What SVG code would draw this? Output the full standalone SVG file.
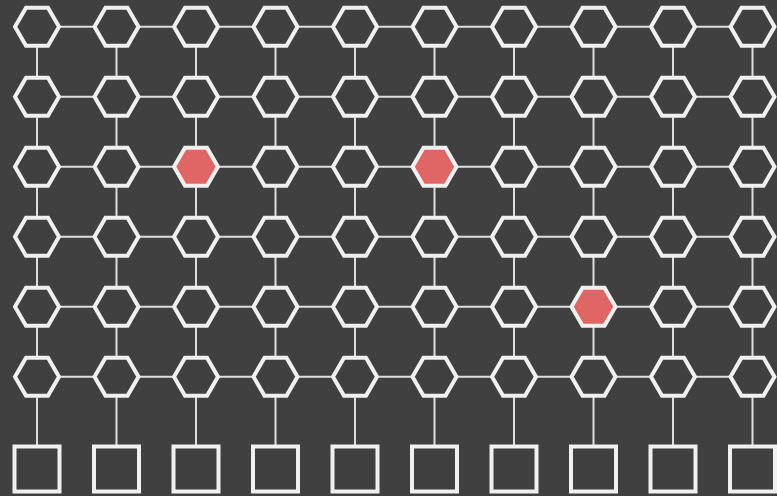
<svg xmlns="http://www.w3.org/2000/svg" width="777" height="496" viewBox="0 0 777 496">
<style>
.bg{fill:#404040}
.e{stroke:#dedede;stroke-width:2;fill:none}
.h{fill:#404040;stroke:#f0f0f0;stroke-width:4;stroke-linejoin:miter}
.r{fill:#e06666}
.s{fill:#404040;stroke:#f0f0f0;stroke-width:4}
</style>
<defs>
<polygon id="hex" points="-22,0 -11,-19 11,-19 22,0 11,19 -11,19"/>
</defs>
<rect class="bg" width="777" height="496"/>
<g id="connectors">
<path class="e" d="M37,26.7H752.5M37,96.7H752.5M37,166.7H752.5M37,236.7H752.5M37,306.7H752.5M37,376.7H752.5"/>
<path class="e" d="M37,26.7V446.5M116.5,26.7V446.5M196,26.7V446.5M275.5,26.7V446.5M355,26.7V446.5M434.5,26.7V446.5M514,26.7V446.5M593.5,26.7V446.5M673,26.7V446.5M752.5,26.7V446.5"/>
</g>
<g id="r0">
<use id="n0_0" href="#hex" class="h" x="37" y="26.7"/><use id="n0_1" href="#hex" class="h" x="116.5" y="26.7"/><use id="n0_2" href="#hex" class="h" x="196" y="26.7"/><use id="n0_3" href="#hex" class="h" x="275.5" y="26.7"/><use id="n0_4" href="#hex" class="h" x="355" y="26.7"/><use id="n0_5" href="#hex" class="h" x="434.5" y="26.7"/><use id="n0_6" href="#hex" class="h" x="514" y="26.7"/><use id="n0_7" href="#hex" class="h" x="593.5" y="26.7"/><use id="n0_8" href="#hex" class="h" x="673" y="26.7"/><use id="n0_9" href="#hex" class="h" x="752.5" y="26.7"/>
</g>
<g id="r1">
<use id="n1_0" href="#hex" class="h" x="37" y="96.7"/><use id="n1_1" href="#hex" class="h" x="116.5" y="96.7"/><use id="n1_2" href="#hex" class="h" x="196" y="96.7"/><use id="n1_3" href="#hex" class="h" x="275.5" y="96.7"/><use id="n1_4" href="#hex" class="h" x="355" y="96.7"/><use id="n1_5" href="#hex" class="h" x="434.5" y="96.7"/><use id="n1_6" href="#hex" class="h" x="514" y="96.7"/><use id="n1_7" href="#hex" class="h" x="593.5" y="96.7"/><use id="n1_8" href="#hex" class="h" x="673" y="96.7"/><use id="n1_9" href="#hex" class="h" x="752.5" y="96.7"/>
</g>
<g id="r2">
<use id="n2_0" href="#hex" class="h" x="37" y="166.7"/><use id="n2_1" href="#hex" class="h" x="116.5" y="166.7"/><use id="n2_2" href="#hex" class="h r" x="196" y="166.7"/><use id="n2_3" href="#hex" class="h" x="275.5" y="166.7"/><use id="n2_4" href="#hex" class="h" x="355" y="166.7"/><use id="n2_5" href="#hex" class="h r" x="434.5" y="166.7"/><use id="n2_6" href="#hex" class="h" x="514" y="166.7"/><use id="n2_7" href="#hex" class="h" x="593.5" y="166.7"/><use id="n2_8" href="#hex" class="h" x="673" y="166.7"/><use id="n2_9" href="#hex" class="h" x="752.5" y="166.7"/>
</g>
<g id="r3">
<use id="n3_0" href="#hex" class="h" x="37" y="236.7"/><use id="n3_1" href="#hex" class="h" x="116.5" y="236.7"/><use id="n3_2" href="#hex" class="h" x="196" y="236.7"/><use id="n3_3" href="#hex" class="h" x="275.5" y="236.7"/><use id="n3_4" href="#hex" class="h" x="355" y="236.7"/><use id="n3_5" href="#hex" class="h" x="434.5" y="236.7"/><use id="n3_6" href="#hex" class="h" x="514" y="236.7"/><use id="n3_7" href="#hex" class="h" x="593.5" y="236.7"/><use id="n3_8" href="#hex" class="h" x="673" y="236.7"/><use id="n3_9" href="#hex" class="h" x="752.5" y="236.7"/>
</g>
<g id="r4">
<use id="n4_0" href="#hex" class="h" x="37" y="306.7"/><use id="n4_1" href="#hex" class="h" x="116.5" y="306.7"/><use id="n4_2" href="#hex" class="h" x="196" y="306.7"/><use id="n4_3" href="#hex" class="h" x="275.5" y="306.7"/><use id="n4_4" href="#hex" class="h" x="355" y="306.7"/><use id="n4_5" href="#hex" class="h" x="434.5" y="306.7"/><use id="n4_6" href="#hex" class="h" x="514" y="306.7"/><use id="n4_7" href="#hex" class="h r" x="593.5" y="306.7"/><use id="n4_8" href="#hex" class="h" x="673" y="306.7"/><use id="n4_9" href="#hex" class="h" x="752.5" y="306.7"/>
</g>
<g id="r5">
<use id="n5_0" href="#hex" class="h" x="37" y="376.7"/><use id="n5_1" href="#hex" class="h" x="116.5" y="376.7"/><use id="n5_2" href="#hex" class="h" x="196" y="376.7"/><use id="n5_3" href="#hex" class="h" x="275.5" y="376.7"/><use id="n5_4" href="#hex" class="h" x="355" y="376.7"/><use id="n5_5" href="#hex" class="h" x="434.5" y="376.7"/><use id="n5_6" href="#hex" class="h" x="514" y="376.7"/><use id="n5_7" href="#hex" class="h" x="593.5" y="376.7"/><use id="n5_8" href="#hex" class="h" x="673" y="376.7"/><use id="n5_9" href="#hex" class="h" x="752.5" y="376.7"/>
</g>
<g id="squares">
<rect id="q0" class="s" x="14.5" y="446.5" width="45" height="45"/><rect id="q1" class="s" x="94" y="446.5" width="45" height="45"/><rect id="q2" class="s" x="173.5" y="446.5" width="45" height="45"/><rect id="q3" class="s" x="253" y="446.5" width="45" height="45"/><rect id="q4" class="s" x="332.5" y="446.5" width="45" height="45"/><rect id="q5" class="s" x="412" y="446.5" width="45" height="45"/><rect id="q6" class="s" x="491.5" y="446.5" width="45" height="45"/><rect id="q7" class="s" x="571" y="446.5" width="45" height="45"/><rect id="q8" class="s" x="650.5" y="446.5" width="45" height="45"/><rect id="q9" class="s" x="730" y="446.5" width="45" height="45"/>
</g>
</svg>
